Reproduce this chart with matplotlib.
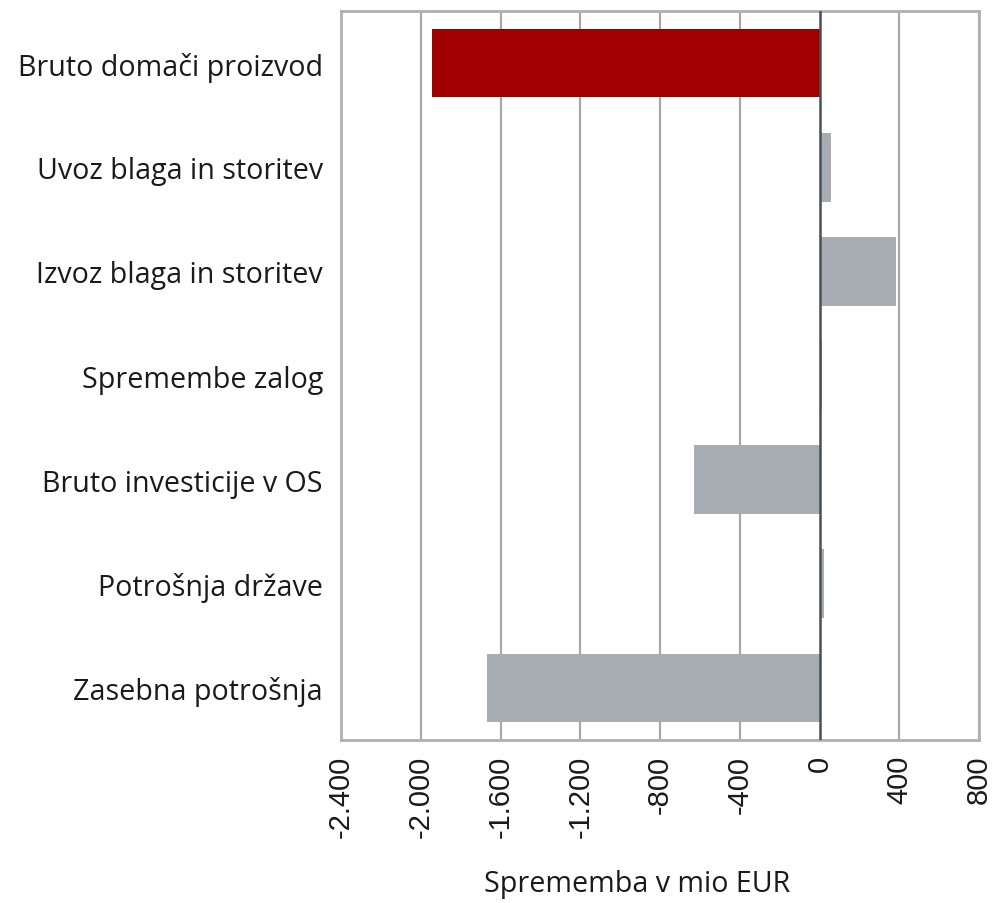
import matplotlib
matplotlib.use("Agg")
import matplotlib.pyplot as plt

categories = ["Bruto domači proizvod", "Uvoz blaga in storitev", "Izvoz blaga in storitev",
              "Spremembe zalog", "Bruto investicije v OS", "Potrošnja države", "Zasebna potrošnja"]
values = [-1945, 60, 385, 15, -627, 22, -1668]
colors = ["#a00000", "#a7adb2", "#a7adb2", "#a7adb2", "#a7adb2", "#a7adb2", "#a7adb2"]
xticks = [-2400, -2000, -1600, -1200, -800, -400, 0, 400, 800]
xticklabels = ["-2.400", "-2.000", "-1.600", "-1.200", "-800", "-400", "0", "400", "800"]

plt.rcParams['font.family'] = ['Open Sans', 'DejaVu Sans']

W, H = 994, 904
fig = plt.figure(figsize=(W/100, H/100), dpi=100)
ax = fig.add_axes([341/W, 1-741/H, (979-341)/W, (741-12)/H])

ypos = list(range(len(categories)))
ax.barh(ypos, values, height=0.66, color=colors, zorder=3)
ax.set_ylim(len(categories)-0.5, -0.5)
ax.set_xlim(-2400, 800)
ax.set_yticks(ypos)
ax.set_yticklabels(categories, fontsize=20.6, color="#1a1a1a")
ax.set_xticks(xticks)
ax.set_xticklabels(xticklabels, rotation=90, fontsize=21, color="#1a1a1a",
                   family=['Liberation Sans', 'DejaVu Sans'])
ax.tick_params(axis='x', length=0, pad=10.5)
ax.tick_params(axis='y', length=0, pad=13)
for x in xticks:
    if x == 0:
        continue
    ax.axvline(x, color="#a8a8a8", lw=1.6, zorder=1)
ax.axvline(0, color="#4a4f56", lw=1.8, zorder=4)
for s in ax.spines.values():
    s.set_color("#b0b0b0")
    s.set_linewidth(2)

fig.text(637/W, 1-885/H, "Sprememba v mio EUR", ha="center", va="center", fontsize=20.6, color="#1a1a1a")
fig.savefig("out.png", dpi=100)
